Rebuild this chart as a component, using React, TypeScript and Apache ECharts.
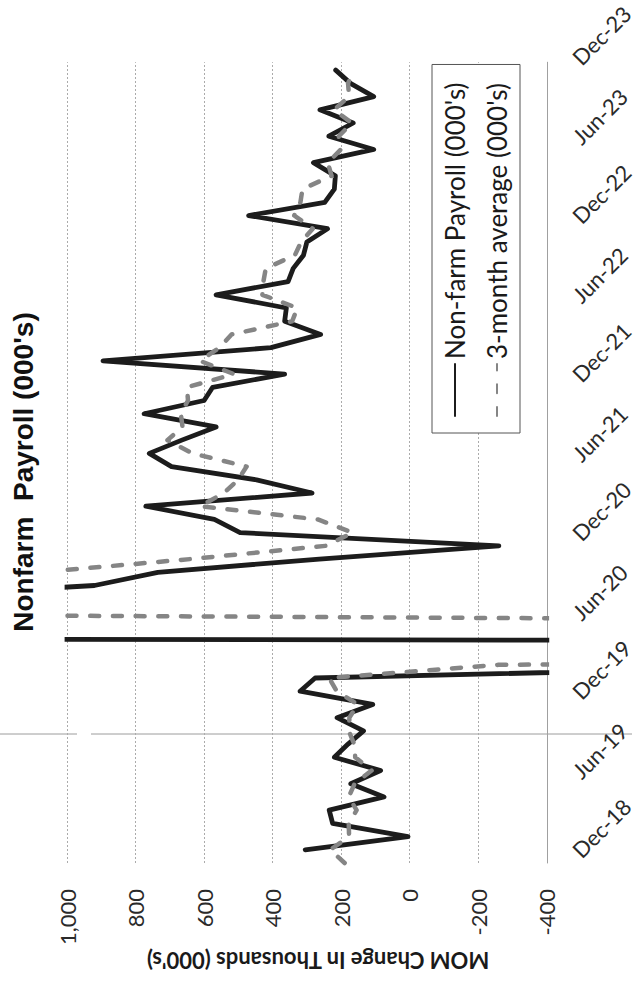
import React, { useEffect, useRef } from "react";
import * as echarts from "echarts";

// Month positions on the date axis (index 0 = Dec-18)
const months = [
  "Dec-18",
  "Jan-19", "Feb-19", "Mar-19", "Apr-19", "May-19", "Jun-19", "Jul-19", "Aug-19", "Sep-19", "Oct-19", "Nov-19", "Dec-19",
  "Jan-20", "Feb-20", "Mar-20", "Apr-20", "May-20", "Jun-20", "Jul-20", "Aug-20", "Sep-20", "Oct-20", "Nov-20", "Dec-20",
  "Jan-21", "Feb-21", "Mar-21", "Apr-21", "May-21", "Jun-21", "Jul-21", "Aug-21", "Sep-21", "Oct-21", "Nov-21", "Dec-21",
  "Jan-22", "Feb-22", "Mar-22", "Apr-22", "May-22", "Jun-22", "Jul-22", "Aug-22", "Sep-22", "Oct-22", "Nov-22", "Dec-22",
  "Jan-23", "Feb-23", "Mar-23", "Apr-23", "May-23", "Jun-23", "Jul-23", "Aug-23", "Sep-23", "Oct-23", "Nov-23", "Dec-23",
];

const tickLabels = [
  "Dec-18", "Jun-19", "Dec-19", "Jun-20", "Dec-20", "Jun-21",
  "Dec-21", "Jun-22", "Dec-22", "Jun-23", "Dec-23",
];

// Monthly change in nonfarm payrolls, thousands
const payroll = [
  null,
  305, 5, 225, 235, 75, 172, 85, 220, 180, 135, 212, 108,
  320, 276, -1373, -20477, 2833, 4846, 1726, 1583, 920, 735, 264, -260,
  495, 570, 770, 285, 447, 695, 760, 665, 565, 775, 600, 575,
  365, 895, 405, 260, 365, 360, 565, 355, 340, 310, 300, 240,
  470, 248, 220, 217, 281, 105, 236, 165, 262, 105, 173, 216,
];

// Trailing 3-month average, thousands
const avg3 = [
  190,
  232, 177, 178, 155, 178, 161, 111, 159, 162, 178, 176, 152,
  213, 235, -259, -7191, -6339, -4266, 3135, 2718, 1410, 1079, 640, 246,
  166, 268, 612, 542, 501, 476, 634, 707, 663, 668, 647, 650,
  513, 612, 555, 520, 343, 328, 430, 427, 420, 335, 317, 283,
  337, 319, 313, 228, 239, 201, 207, 169, 221, 177, 180, 165,
];

const yTicks = { min: -400, max: 1000, step: 200 };

const SERIES_PAYROLL = "Non-farm Payroll (000's)";
const SERIES_AVG = "3-month average (000's)";

const W = 986;
const H = 637;

function buildOption() {
  const pts = (arr: (number | null)[]) =>
    months.map((_, i) => [i, arr[i] === null ? null : arr[i]]);

  return {
    animation: false,
    backgroundColor: "#ffffff",
    grid: { left: 123, right: 58, top: 67, bottom: 90, containLabel: false },
    xAxis: {
      type: "value",
      min: 0,
      max: 60.6,
      interval: 6,
      axisLine: { show: true, onZero: false, lineStyle: { color: "#a0a0a0", width: 1 } },
      axisTick: { show: false },
      splitLine: { show: false },
      axisLabel: {
        rotate: -45,
        margin: 20,
        padding: [0, 0, 0, 13],
        fontFamily: "Lato",
        fontSize: 22,
        color: "#2a2a2a",
        showMaxLabel: true,
        showMinLabel: true,
        formatter: (v: number) => {
          const k = v / 6;
          return Number.isInteger(k) && tickLabels[k] ? tickLabels[k] : "";
        },
      },
    },
    yAxis: {
      type: "value",
      min: yTicks.min,
      max: yTicks.max,
      interval: yTicks.step,
      axisLine: { show: false },
      axisTick: { show: false },
      splitLine: { show: true, lineStyle: { color: "#ababab", width: 1, type: [2, 2] } },
      axisLabel: {
        margin: 26,
        fontFamily: "Lato",
        fontSize: 22,
        color: "#2a2a2a",
        formatter: (v: number) => v.toLocaleString("en-US"),
      },
    },
    legend: {
      orient: "vertical",
      left: 553,
      top: 432,
      padding: [8, 18, 8, 16],
      itemWidth: 52,
      itemHeight: 20,
      itemGap: 12,
      borderColor: "#555555",
      borderWidth: 1,
      backgroundColor: "#ffffff",
      itemStyle: { opacity: 0 },
      textStyle: { fontFamily: "Lato", fontSize: 26, color: "#1a1a1a", lineHeight: 30 },
      data: [SERIES_PAYROLL, SERIES_AVG],
    },
    graphic: [
      {
        type: "text",
        x: 514,
        y: 23,
        style: {
          text: "Nonfarm  Payroll (000's)",
          fontFamily: "Liberation Sans",
          fontWeight: "bold",
          fontSize: 28,
          fill: "#111111",
          align: "center",
          verticalAlign: "middle",
        },
      },
      {
        type: "text",
        x: 26,
        y: 318,
        rotation: Math.PI / 2,
        style: {
          text: "MOM Change In Thousands (000's)",
          fontFamily: "Lato",
          fontWeight: "bold",
          fontSize: 22,
          fill: "#1a1a1a",
          align: "center",
          verticalAlign: "middle",
        },
      },
      {
        type: "line",
        shape: { x1: 252, y1: 0, x2: 252, y2: 77 },
        style: { stroke: "#9c9c9c", lineWidth: 1 },
      },
      {
        type: "line",
        shape: { x1: 252, y1: 91, x2: 252, y2: 632 },
        style: { stroke: "#9c9c9c", lineWidth: 1 },
      },
    ],
    series: [
      {
        name: SERIES_PAYROLL,
        type: "line",
        data: pts(payroll),
        symbol: "none",
        clip: true,
        z: 3,
        itemStyle: { color: "#1c1c1c" },
        lineStyle: { color: "#1c1c1c", width: 4.8, join: "round", cap: "round" },
      },
      {
        name: SERIES_AVG,
        type: "line",
        data: pts(avg3),
        symbol: "none",
        clip: true,
        z: 4,
        itemStyle: { color: "#858585" },
        lineStyle: { color: "#858585", width: 4.5, type: [9, 13.7], join: "round", cap: "round" },
      },
    ],
  };
}

export default function App() {
  const ref = useRef<HTMLDivElement>(null);

  useEffect(() => {
    document.body.style.margin = "0";
    document.body.style.overflow = "hidden";
    const chart = echarts.init(ref.current as HTMLDivElement, null, { renderer: "svg" });
    chart.setOption(buildOption() as any);
    return () => chart.dispose();
  }, []);

  // The landscape chart is turned a quarter turn counter-clockwise on the page
  return (
    <div
      ref={ref}
      style={{
        position: "absolute",
        left: 0,
        top: 0,
        width: W,
        height: H,
        transformOrigin: "0 0",
        transform: `translate(0px, ${W}px) rotate(-90deg)`,
        background: "#ffffff",
      }}
    />
  );
}
